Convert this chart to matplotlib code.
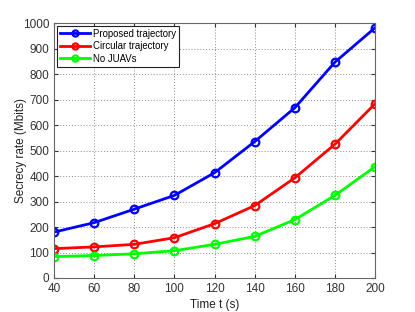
import numpy as np
import matplotlib
matplotlib.use('Agg')
import matplotlib.pyplot as plt

plt.rcParams['font.family'] = ['Liberation Sans', 'DejaVu Sans']

t = [40, 60, 80, 100, 120, 140, 160, 180, 200]
proposed = [180, 217, 270, 324, 413, 535, 668, 847, 982]
circular = [115, 122, 132, 158, 213, 284, 393, 525, 684]
no_juav = [84, 88, 95, 107, 132, 163, 229, 324, 437]
labels = ['Proposed trajectory', 'Circular trajectory', 'No JUAVs']

fig = plt.figure(figsize=(4.15, 3.12), dpi=100)
ax = fig.add_axes([0.130, 0.109, 0.774, 0.817])

for y, c, lab in zip([proposed, circular, no_juav], ['#0000ff', '#ff0000', '#00ff00'], labels):
    ax.plot(t, y, color=c, lw=2, marker='o', ms=5.5, mfc='none', mew=1.6, label=lab)

ax.set_xlim(40, 200)
ax.set_ylim(0, 1000)
ax.set_xticks(t)
ax.set_yticks(np.arange(0, 1001, 100))
ax.grid(True, ls=(0, (1, 2)), color='#8a8a8a', lw=0.7)
ax.tick_params(direction='in', labelsize=8.5, length=3, colors='#333333', top=True, right=True)
for s in ax.spines.values():
    s.set_color('#666666')
    s.set_linewidth(0.8)
ax.set_xlabel('Time t (s)', fontsize=8.5, color='#222222', labelpad=3)
ax.set_ylabel('Secrecy rate (Mbits)', fontsize=8.5, color='#222222', labelpad=-3)

leg = ax.legend(loc='upper left', fontsize=6.9, fancybox=False, framealpha=1,
                edgecolor='#222222', borderaxespad=0.3, handlelength=3.2,
                labelspacing=0.25, borderpad=0.3, handletextpad=0.3, markerscale=0.8)
leg.get_frame().set_linewidth(0.8)

fig.savefig('out.png', dpi=100)
